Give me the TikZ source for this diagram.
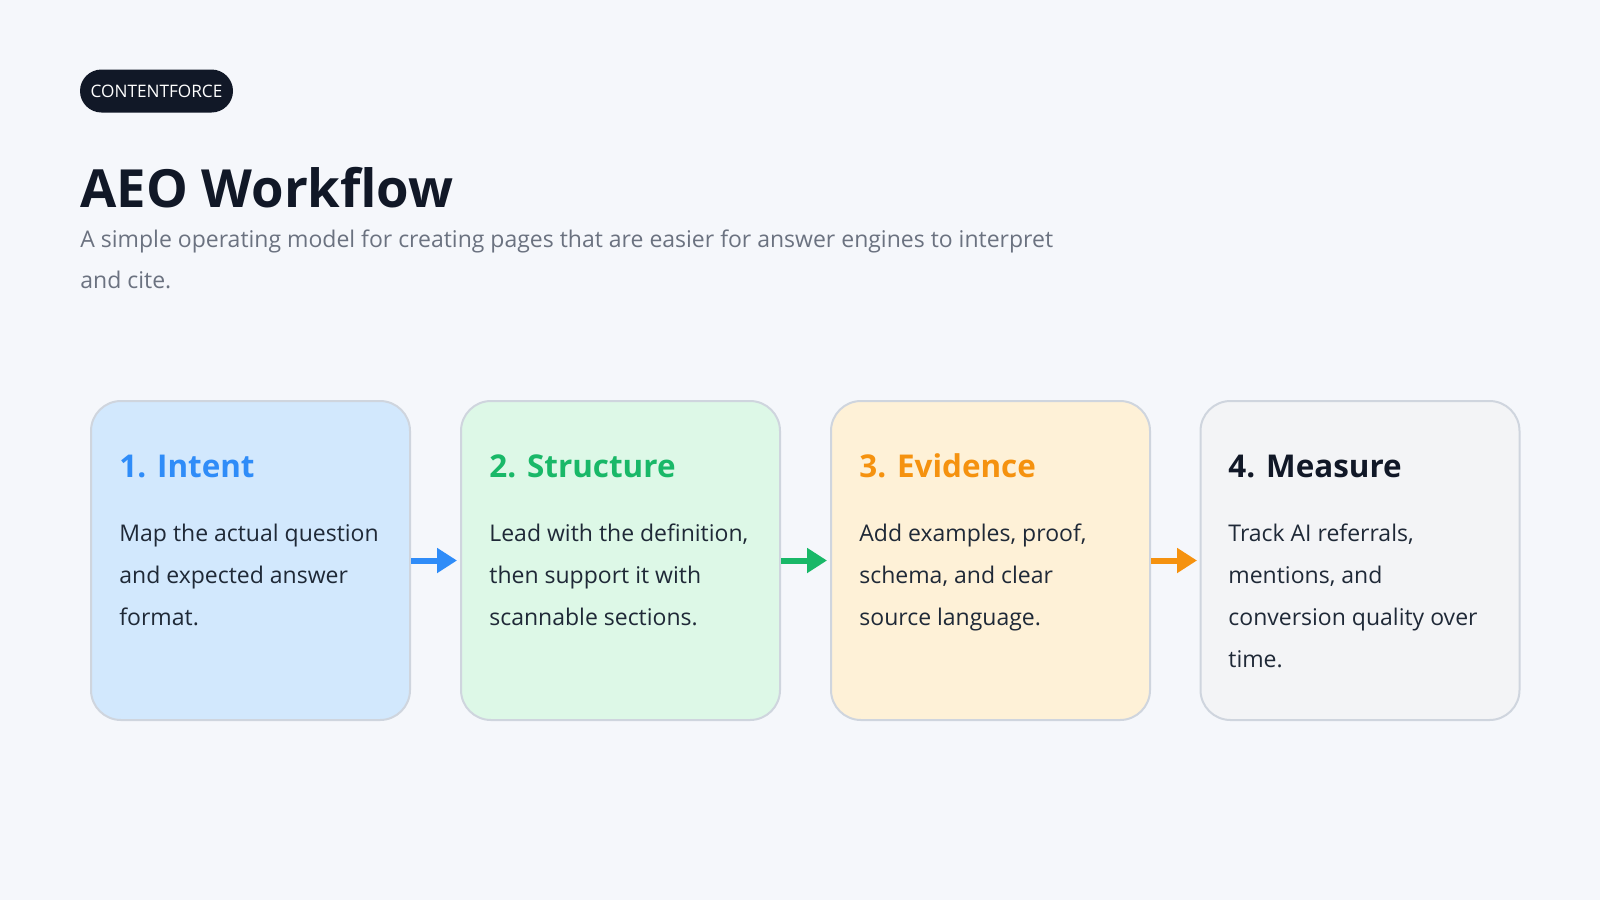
\documentclass[tikz,border=0pt]{standalone}
\usepackage{fontspec}
\setmainfont{Open Sans}
\usetikzlibrary{arrows.meta}

\definecolor{pagebg}{HTML}{F5F7FB}
\definecolor{ink}{HTML}{111827}
\definecolor{bodyink}{HTML}{1F2937}
\definecolor{subink}{HTML}{6B7280}
\definecolor{cardline}{HTML}{CFD5DE}
\definecolor{intentcol}{HTML}{2F8CF8}
\definecolor{intentfill}{HTML}{D2E8FD}
\definecolor{structcol}{HTML}{19B868}
\definecolor{structfill}{HTML}{DDF8E7}
\definecolor{evidcol}{HTML}{F5920F}
\definecolor{evidfill}{HTML}{FEF1D7}
\definecolor{measfill}{HTML}{F3F4F6}

% lines set from the first baseline down
\newcommand{\toplines}[2]{\parbox[t]{#1}{\raggedright #2}}

\tikzset{
  card/.style={draw=cardline, line width=1pt, rounded corners=15pt,
    minimum width=159.5pt, minimum height=159.5pt, inner sep=0pt},
  cardhead/.style={anchor=base west, inner sep=0pt,
    font=\fontsize{15.7}{19}\selectfont\bfseries},
  cardbody/.style={anchor=base west, inner sep=0pt, text=bodyink,
    font=\fontsize{11.5}{21}\selectfont},
  flowarrow/.style={line width=3pt, -{Triangle[length=10pt,width=12pt]}}
}

\begin{document}
\begin{tikzpicture}[x=0.5pt, y=-0.5pt]
% Page and margins
\fill[pagebg] (0,0) rectangle (1600,900);
\useasboundingbox (0,0) rectangle (1600,900);

% Header
\node[fill=ink, text=white, rounded corners=10.75pt, minimum height=21.5pt,
  minimum width=76.5pt, inner sep=0pt, font=\fontsize{8.6}{10}\selectfont]
  (brand) at (156.5,91) {CONTENTFORCE};
\node[anchor=base west, inner sep=0pt, text=ink,
  font=\fontsize{26.3}{32}\selectfont\bfseries] (title) at (80,207) {AEO Workflow};
\node[anchor=base west, inner sep=0pt, text=subink,
  font=\fontsize{11.5}{20.9}\selectfont] (subtitle) at (80,247)
  {\toplines{560pt}{A simple operating model for creating pages that are easier for answer engines to interpret\\and cite.}};

% Cards
\node[card, fill=intentfill] (intent) at (250.5,560.5) {};
\node[card, fill=structfill] (structure) at (620.5,560.5) {};
\node[card, fill=evidfill] (evidence) at (990.5,560.5) {};
\node[card, fill=measfill] (measure) at (1360,560.5) {};

% Card headings
\node[cardhead, text=intentcol] (intenthead) at (119,477) {1. Intent};
\node[cardhead, text=structcol] (structhead) at (489,477) {2. Structure};
\node[cardhead, text=evidcol] (evidhead) at (859,477) {3. Evidence};
\node[cardhead, text=ink] (meashead) at (1228,477) {4. Measure};

% Card texts
\node[cardbody] (intenttext) at (119,541)
  {\toplines{150pt}{Map the actual question\\and expected answer\\format.}};
\node[cardbody] (structtext) at (489,541)
  {\toplines{150pt}{Lead with the definition,\\then support it with\\scannable sections.}};
\node[cardbody] (evidtext) at (859,541)
  {\toplines{150pt}{Add examples, proof,\\schema, and clear\\source language.}};
\node[cardbody] (meastext) at (1228,541)
  {\toplines{150pt}{Track AI referrals,\\mentions, and\\conversion quality over\\time.}};

% Arrows between cards
\draw[flowarrow, intentcol] (intent.east) -- ++(46,0);
\draw[flowarrow, structcol] (structure.east) -- ++(46,0);
\draw[flowarrow, evidcol] (evidence.east) -- ++(46,0);
\end{tikzpicture}
\end{document}
